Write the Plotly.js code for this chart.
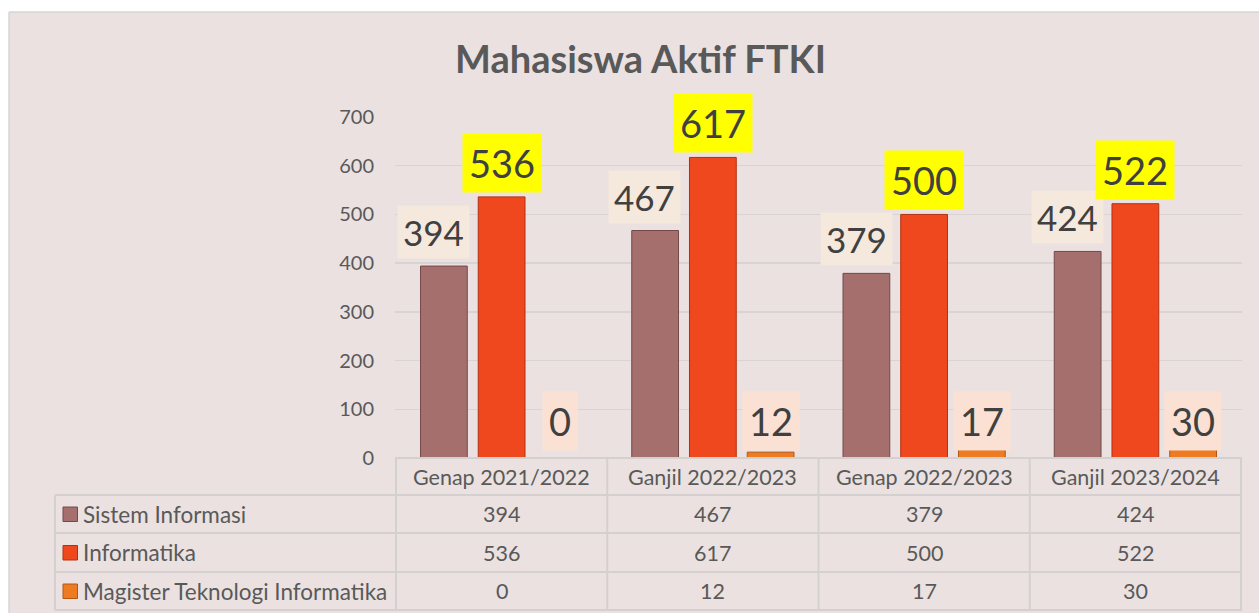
<!DOCTYPE html>
<html>
<head>
<meta charset="utf-8">
<script src="https://cdn.plot.ly/plotly-3.0.1.min.js"></script>
<style>
  html, body { margin: 0; padding: 0; background: #ffffff; }
  #chart { width: 1259px; height: 613px; }
</style>
</head>
<body>
<div id="chart"></div>
<script>
// ---- data ----
const categories = ["Genap 2021/2022", "Ganjil 2022/2023", "Genap 2022/2023", "Ganjil 2023/2024"];
const seriesNames = ["Sistem Informasi", "Informatika", "Magister Teknologi Informatika"];
const sistemInformasi = [394, 467, 379, 424];
const informatika = [536, 617, 500, 522];
const magisterTI = [0, 12, 17, 30];
const yTicks = [0, 100, 200, 300, 400, 500, 600, 700];
const chartTitle = "Mahasiswa Aktif FTKI";

// ---- layout geometry (pixels) ----
const W = 1259, H = 613;
const M = { l: 395, r: 17, t: 117, b: 155 };
const PW = W - M.l - M.r, PH = H - M.t - M.b;
const px = x => (x - M.l) / PW;           // pixel x -> paper
const py = y => (H - M.b - y) / PH;       // pixel y -> paper

const FONT = "Lato, 'Open Sans', sans-serif";
const bg = "#EAE1E0";
const gridCol = "#D8D4D4";
const tableLine = "#D5D0D0";
const textCol = "#595959";
const labelCol = "#404040";

const seriesValues = [sistemInformasi, informatika, magisterTI];
const barColors = ["#A56F6E", "#F0481E", "#EE7A22"];
const barLines = ["#74494A", "#B5300F", "#B35812"];
const labelBg = ["#F5E8DD", "#FFFF00", "#FBE1D3"];

const traces = seriesValues.map((vals, i) => ({
  type: "bar",
  name: seriesNames[i],
  x: categories,
  y: vals,
  marker: { color: barColors[i], line: { color: barLines[i], width: 1 } },
  hoverinfo: "skip",
  showlegend: false
}));

const annotations = [];
// data labels
categories.forEach((c, j) => {
  // Sistem Informasi: upper-left of bar
  annotations.push({
    xref: "x", yref: "y", x: c, y: sistemInformasi[j],
    xanchor: "center", yanchor: "bottom", showarrow: false,
    xshift: -58 - 10, yshift: 7,
    text: String(sistemInformasi[j]),
    font: { family: FONT, size: 35, color: labelCol },
    bgcolor: labelBg[0], borderpad: 5
  });
  // Informatika: above bar
  annotations.push({
    xref: "x", yref: "y", x: c, y: informatika[j],
    xanchor: "center", yanchor: "bottom", showarrow: false,
    xshift: 0, yshift: 4,
    text: String(informatika[j]),
    font: { family: FONT, size: 38, color: labelCol },
    bgcolor: labelBg[1], borderpad: 6
  });
  // Magister: near base
  annotations.push({
    xref: "x", yref: "y", x: c, y: 0,
    xanchor: "center", yanchor: "bottom", showarrow: false,
    xshift: 58, yshift: 7,
    text: String(magisterTI[j]),
    font: { family: FONT, size: 38, color: labelCol },
    bgcolor: labelBg[2], borderpad: 6
  });
});

// data table
const rowTop = 458, rowH = [37, 38, 39, 38];
const rowEdges = [rowTop];
rowH.forEach(h => rowEdges.push(rowEdges[rowEdges.length - 1] + h));
const rowCenter = k => (rowEdges[k] + rowEdges[k + 1]) / 2;

categories.forEach((c, j) => {
  annotations.push({
    xref: "x", yref: "paper", x: c, y: py(rowCenter(0)),
    xanchor: "center", yanchor: "middle", showarrow: false,
    text: c, font: { family: FONT, size: 21.5, color: textCol }
  });
  seriesValues.forEach((vals, i) => {
    annotations.push({
      xref: "x", yref: "paper", x: c, y: py(rowCenter(i + 1)),
      xanchor: "center", yanchor: "middle", showarrow: false,
      text: String(vals[j]), font: { family: FONT, size: 21.5, color: textCol }
    });
  });
});
seriesNames.forEach((n, i) => {
  annotations.push({
    xref: "paper", yref: "paper", x: px(81), y: py(rowCenter(i + 1)),
    xanchor: "left", yanchor: "middle", showarrow: false,
    text: n, font: { family: FONT, size: 22.5, color: textCol }
  });
});

const shapes = [];
// white outer frame
shapes.push({ type: "rect", xref: "paper", yref: "paper", x0: px(0), x1: px(W), y0: py(0), y1: py(12), fillcolor: "#ffffff", line: { width: 0 }, layer: "below" });
shapes.push({ type: "rect", xref: "paper", yref: "paper", x0: px(0), x1: px(9), y0: py(0), y1: py(H), fillcolor: "#ffffff", line: { width: 0 }, layer: "below" });
shapes.push({ type: "line", xref: "paper", yref: "paper", x0: px(9), x1: px(W), y0: py(12), y1: py(12), line: { color: "#D6D6D6", width: 1.5 } });
shapes.push({ type: "line", xref: "paper", yref: "paper", x0: px(9), x1: px(9), y0: py(12), y1: py(H), line: { color: "#D6D6D6", width: 1.5 } });

// table horizontal lines
rowEdges.forEach((y, k) => {
  shapes.push({ type: "line", xref: "paper", yref: "paper",
    x0: k === 0 ? 0 : px(55), x1: 1, y0: py(y), y1: py(y),
    line: { color: tableLine, width: 2 } });
});
// table vertical lines at category boundaries
for (let i = 0; i <= categories.length; i++) {
  shapes.push({ type: "line", xref: "x", yref: "paper",
    x0: i - 0.5, x1: i - 0.5, y0: py(rowEdges[0]), y1: py(rowEdges[rowEdges.length - 1]),
    line: { color: tableLine, width: 2 } });
}
shapes.push({ type: "line", xref: "paper", yref: "paper",
  x0: px(55), x1: px(55), y0: py(rowEdges[1]), y1: py(rowEdges[rowEdges.length - 1]),
  line: { color: tableLine, width: 2 } });
// legend keys
seriesNames.forEach((n, i) => {
  const cy = rowCenter(i + 1);
  shapes.push({ type: "rect", xref: "paper", yref: "paper",
    x0: px(63), x1: px(77.5), y0: py(cy - 7), y1: py(cy + 7.5),
    fillcolor: barColors[i], line: { color: barLines[i], width: 1 } });
});

const layout = {
  width: W, height: H,
  margin: M,
  paper_bgcolor: bg, plot_bgcolor: bg,
  font: { family: FONT, color: textCol },
  title: {
    text: chartTitle,
    font: { family: FONT, size: 38, color: textCol, weight: "bold" },
    x: 640.5 / W, xref: "container", xanchor: "center",
    y: 1 - 60 / H, yref: "container", yanchor: "middle"
  },
  barmode: "group", bargap: 0.18, bargroupgap: 0.19,
  xaxis: {
    type: "category", showticklabels: false, showgrid: false, zeroline: false,
    showline: false, ticks: "", fixedrange: true
  },
  yaxis: {
    range: [0, 700], tickvals: yTicks, ticktext: yTicks.map(String),
    showgrid: true, gridcolor: gridCol, gridwidth: 1.5, zeroline: false, showline: false,
    ticks: "", ticklabelstandoff: 20,
    tickfont: { family: FONT, size: 20, color: textCol }, fixedrange: true
  },
  annotations, shapes,
  showlegend: false
};

Plotly.newPlot("chart", traces, layout, { staticPlot: true, displayModeBar: false });
</script>
</body>
</html>
